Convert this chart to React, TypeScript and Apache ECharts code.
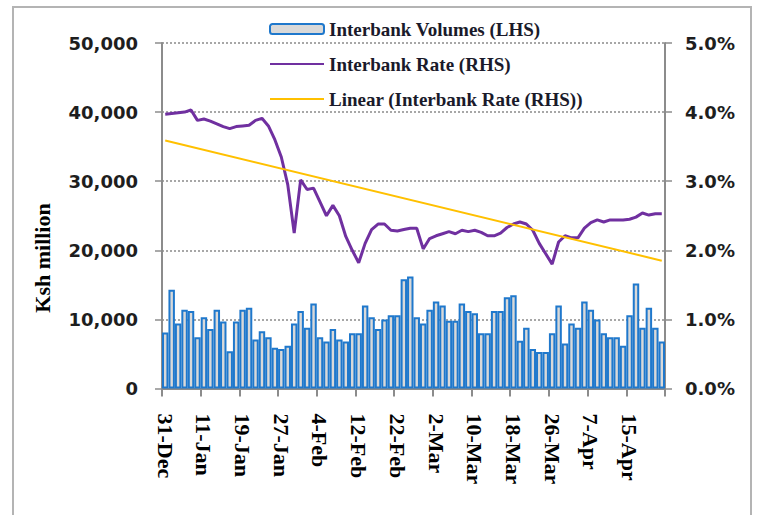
import React, { useEffect, useRef } from "react";
import * as echarts from "echarts";

const categories: string[] = [
  "31-Dec", "2-Jan", "3-Jan", "4-Jan", "7-Jan", "8-Jan",
  "11-Jan", "12-Jan", "14-Jan", "15-Jan", "16-Jan", "18-Jan",
  "19-Jan", "21-Jan", "22-Jan", "23-Jan", "24-Jan", "25-Jan",
  "27-Jan", "28-Jan", "29-Jan", "30-Jan", "31-Jan", "1-Feb",
  "4-Feb", "5-Feb", "6-Feb", "7-Feb", "8-Feb", "11-Feb",
  "12-Feb", "13-Feb", "14-Feb", "15-Feb", "18-Feb", "19-Feb",
  "22-Feb", "25-Feb", "26-Feb", "27-Feb", "28-Feb", "1-Mar",
  "2-Mar", "4-Mar", "5-Mar", "6-Mar", "7-Mar", "8-Mar",
  "10-Mar", "11-Mar", "12-Mar", "13-Mar", "14-Mar", "15-Mar",
  "18-Mar", "19-Mar", "20-Mar", "21-Mar", "22-Mar", "25-Mar",
  "26-Mar", "27-Mar", "28-Mar", "2-Apr", "3-Apr", "4-Apr",
  "7-Apr", "8-Apr", "9-Apr", "10-Apr", "11-Apr", "12-Apr",
  "15-Apr", "16-Apr", "17-Apr", "18-Apr", "19-Apr", "22-Apr",
];

// Interbank volumes, Ksh million (LHS)
const volumes: number[] = [
  8100, 14300, 9400, 11400, 11200, 7400,
  10300, 8600, 11400, 9700, 5400, 9700,
  11400, 11700, 7100, 8300, 7400, 5900,
  5700, 6200, 9400, 11200, 8800, 12300,
  7400, 6800, 8600, 7100, 6800, 8000,
  8000, 12000, 10300, 8600, 10000, 10600,
  10600, 15800, 16200, 10300, 9400, 11400,
  12600, 12000, 9800, 9800, 12300, 11200,
  10900, 8000, 8000, 11200, 11200, 13200,
  13500, 6900, 8800, 5700, 5300, 5300,
  8000, 12000, 6500, 9400, 8800, 12600,
  11400, 10000, 8000, 7400, 7400, 6200,
  10600, 15200, 8800, 11700, 8800, 6800,
];

// Interbank rate, % (RHS)
const rates: number[] = [
  3.97, 3.98, 3.99, 4.0, 4.03, 3.88,
  3.9, 3.87, 3.83, 3.79, 3.76, 3.79,
  3.8, 3.81, 3.88, 3.91, 3.8, 3.6,
  3.35, 2.95, 2.25, 3.02, 2.88, 2.9,
  2.7, 2.5, 2.65, 2.5, 2.2, 2.0,
  1.82, 2.1, 2.3, 2.38, 2.38, 2.29,
  2.28, 2.3, 2.32, 2.32, 2.02, 2.17,
  2.21, 2.24, 2.27, 2.24, 2.29, 2.27,
  2.29, 2.26, 2.21, 2.21, 2.25, 2.33,
  2.38, 2.41, 2.38, 2.29, 2.1, 1.95,
  1.8, 2.12, 2.21, 2.18, 2.18, 2.32,
  2.4, 2.44, 2.41, 2.44, 2.44, 2.44,
  2.45, 2.48, 2.54, 2.51, 2.53, 2.53,
];

// Linear trendline end points (RHS)
const trendStart = 3.59;
const trendEnd = 1.85;

const seriesNames = [
  "Interbank Volumes (LHS)",
  "Interbank Rate (RHS)",
  "Linear (Interbank Rate (RHS))",
];

export default function App() {
  const ref = useRef<HTMLDivElement>(null);

  useEffect(() => {
    if (!ref.current) return;
    const chart = echarts.init(ref.current, undefined, { renderer: "svg" });

    const trend: (number | null)[] = categories.map((_, i) =>
      i === 0 ? trendStart : i === categories.length - 1 ? trendEnd : null
    );

    const axisGray = "#8c8c8c";
    const tickFont = {
      fontFamily: "DejaVu Sans",
      fontWeight: "bold" as const,
      fontSize: 18,
      color: "#1e1e1e",
    };

    chart.setOption({
      animation: false,
      backgroundColor: "#ffffff",
      graphic: [
        {
          type: "rect",
          shape: { x: 13, y: 7, width: 738, height: 530 },
          style: { fill: "none", stroke: "#b4b4b4", lineWidth: 2 },
          silent: true,
        },
        {
          type: "text",
          x: 42,
          y: 258,
          rotation: Math.PI / 2,
          style: {
            text: "Ksh million",
            fontFamily: "Liberation Serif",
            fontWeight: "bold",
            fontSize: 22,
            fill: "#000",
            align: "center",
            verticalAlign: "middle",
          },
        },
      ],
      legend: {
        orient: "vertical",
        left: 264,
        top: 14,
        itemWidth: 54,
        itemHeight: 10,
        itemGap: 15,
        data: [
          { name: seriesNames[0] },
          { name: seriesNames[1], itemStyle: { opacity: 0 }, lineStyle: { width: 2 } },
          { name: seriesNames[2], itemStyle: { opacity: 0 }, lineStyle: { width: 2 } },
        ],
        textStyle: {
          fontFamily: "Liberation Serif",
          fontWeight: "bold",
          fontSize: 19,
          lineHeight: 20,
          color: "#1a1a2a",
        },
      },
      grid: { left: 162, right: 92, top: 43, bottom: 126.5 },
      xAxis: {
        type: "category",
        data: categories,
        boundaryGap: true,
        axisLine: { show: true, lineStyle: { color: axisGray, width: 2 } },
        axisTick: {
          show: true,
          interval: 5,
          length: 8,
          lineStyle: { color: axisGray, width: 2 },
        },
        axisLabel: {
          interval: 5,
          rotate: -90,
          margin: 25,
          fontFamily: "Liberation Serif",
          fontWeight: "bold",
          fontSize: 22,
          color: "#000",
        },
        splitLine: { show: false },
      },
      yAxis: [
        {
          type: "value",
          min: 0,
          max: 50000,
          interval: 10000,
          position: "left",
          axisLine: { show: true, lineStyle: { color: axisGray, width: 2 } },
          axisTick: { show: true, length: 7, lineStyle: { color: axisGray, width: 1.5 } },
          axisLabel: {
            ...tickFont,
            margin: 24,
            formatter: (v: number) => v.toLocaleString("en-US"),
          },
          splitLine: {
            show: true,
            lineStyle: { color: "#8a8a8a", type: [2, 2], width: 1.5 },
          },
        },
        {
          type: "value",
          min: 0,
          max: 5,
          interval: 1,
          position: "right",
          axisLine: { show: true, lineStyle: { color: axisGray, width: 2 } },
          axisTick: { show: true, length: 7, lineStyle: { color: axisGray, width: 1.5 } },
          axisLabel: {
            ...tickFont,
            margin: 20,
            formatter: (v: number) => v.toFixed(1) + "%",
          },
          splitLine: { show: false },
        },
      ],
      series: [
        {
          name: seriesNames[0],
          type: "bar",
          yAxisIndex: 0,
          data: volumes,
          barCategoryGap: "0%",
          itemStyle: { color: "#d9d9d9", borderColor: "#1f78cc", borderWidth: 2 },
          z: 2,
        },
        {
          name: seriesNames[1],
          type: "line",
          yAxisIndex: 1,
          data: rates,
          symbol: "none",
          lineStyle: { color: "#7030a0", width: 3 },
          itemStyle: { color: "#7030a0" },
          z: 3,
        },
        {
          name: seriesNames[2],
          type: "line",
          yAxisIndex: 1,
          data: trend,
          connectNulls: true,
          symbol: "none",
          lineStyle: { color: "#ffc000", width: 2 },
          itemStyle: { color: "#ffc000" },
          z: 4,
        },
      ],
    });

    return () => chart.dispose();
  }, []);

  return (
    <div
      ref={ref}
      style={{ position: "fixed", left: 0, top: 0, width: 757, height: 515 }}
    />
  );
}
